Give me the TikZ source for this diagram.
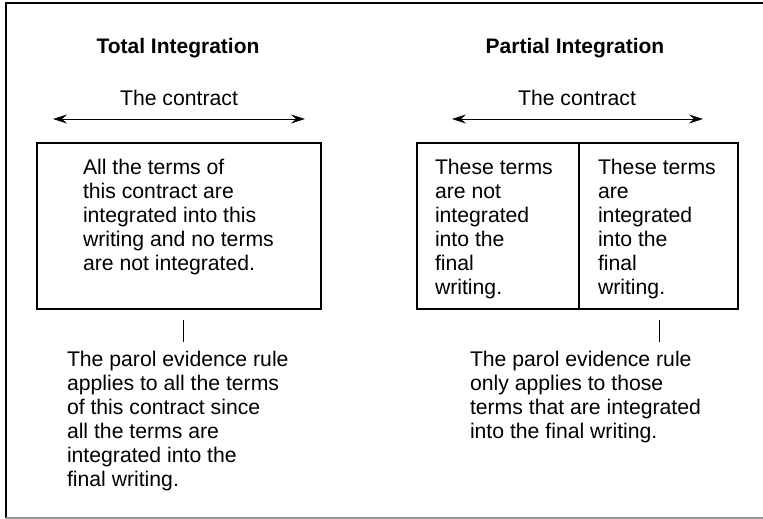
\documentclass[tikz,border=0pt]{standalone}
\usepackage{fontspec}
\setmainfont{Liberation Sans}
\usetikzlibrary{arrows.meta}
\begin{document}
\begin{tikzpicture}[x=1pt,y=-1pt,
  every node/.style={inner sep=0pt,outer sep=0pt},
  txt/.style={font=\fontsize{21.2}{24}\selectfont,align=left,anchor=north west},
  ttl/.style={font=\fontsize{21}{24}\selectfont\bfseries,anchor=base},
  lbl/.style={font=\fontsize{21.2}{24}\selectfont,anchor=base},
  boxx/.style={draw,line width=1.1pt,rectangle},
  span/.style={{Stealth[length=14pt,width=9pt,inset=5pt]}-{Stealth[length=14pt,width=9pt,inset=5pt]},line width=0.9pt},
  tick/.style={line width=0.9pt}]
\useasboundingbox (0,0) rectangle (763,519);
% frame
\draw[line width=1.1pt] (770,3) -- (6,3) -- (6,518);
\draw[line width=1.1pt,black!40] (6,518) -- (770,518);
% left side
\node[ttl] (t1) at (178,54) {Total Integration};
\node[lbl] (c1) at (179,105) {The contract};
\coordinate (a1l) at (53,119);
\coordinate (a1r) at (305,119);
\draw[span] (a1l) -- (a1r);
\node[boxx,minimum width=284pt,minimum height=166pt] (b1) at (179,226) {};
\node[txt] (b1t) at (83,157.2) {\strut All the terms of\\this contract are\\integrated into this\\writing and no terms\\are not integrated.};
\coordinate (k1a) at (183,320);
\coordinate (k1b) at (183,342);
\draw[tick] (k1a) -- (k1b);
\node[txt] (r1) at (67,349.2) {\strut The parol evidence rule\\applies to all the terms\\of this contract since\\all the terms are\\integrated into the\\final writing.};
% right side
\node[ttl] (t2) at (575,54) {Partial Integration};
\node[lbl] (c2) at (577,105) {The contract};
\coordinate (a2l) at (452,119);
\coordinate (a2r) at (703,119);
\draw[span] (a2l) -- (a2r);
\node[boxx,minimum width=162pt,minimum height=166pt] (b2) at (498,226) {};
\node[boxx,minimum width=159pt,minimum height=166pt] (b3) at (658.5,226) {};
\node[txt] (b2t) at (435,157.2) {\strut These terms\\are not\\integrated\\into the\\final\\writing.};
\node[txt] (b3t) at (598,157.2) {\strut These terms\\are\\integrated\\into the\\final\\writing.};
\coordinate (k2a) at (659,320);
\coordinate (k2b) at (659,342);
\draw[tick] (k2a) -- (k2b);
\node[txt] (r2) at (470,349.2) {\strut The parol evidence rule\\only applies to those\\terms that are integrated\\into the final writing.};
\end{tikzpicture}
\end{document}
